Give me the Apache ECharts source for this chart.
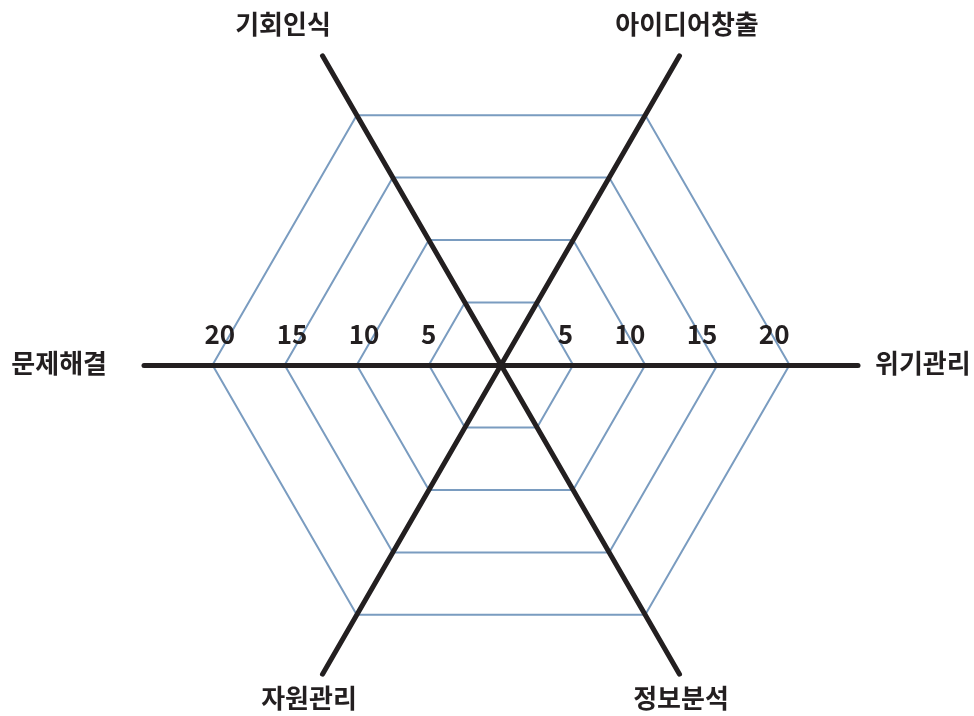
<!DOCTYPE html>
<html>
<head>
<meta charset="utf-8">
<script src="https://cdn.jsdelivr.net/npm/echarts@6/dist/echarts.min.js"></script>
<style>
html,body{margin:0;padding:0;background:#fff;}
#chart{width:974px;height:716px;}
</style>
</head>
<body>
<div id="chart"></div>
<script>
// ---- data ----
const categories = ['위기관리', '아이디어창출', '기회인식', '문제해결', '자원관리', '정보분석'];
const ringMax = 20;
const tickValues = [5, 10, 15, 20];
const tickLabels = ['5', '10', '15', '20'];

// ---- layout / style ----
const CX = 501, CY = 365;
const RING_R = 288.5;     // radius of value 20
const AXIS_R = 357;       // axis line length
const FONT = '"Noto Sans CJK KR", "Noto Sans", sans-serif';
const TEXT_COLOR = '#231f20';
const RING_COLOR = '#7a9cc0';

// name placement offsets (relative to chart center), per indicator index
const nameLayout = [
  { dx: 374, dy: -2, align: 'left' },
  { dx: 186, dy: -341, align: 'center' },
  { dx: -218, dy: -341, align: 'center' },
  { dx: -394, dy: -2, align: 'right' },
  { dx: -192, dy: 333, align: 'center' },
  { dx: 180, dy: 333, align: 'center' }
];

const chart = echarts.init(document.getElementById('chart'), null, { renderer: 'canvas' });

function valueToRadius(v) { return v / ringMax * RING_R; }

const graphics = [];
// tick labels on the horizontal axis, both sides
tickValues.forEach(function (v, i) {
  const r = valueToRadius(v);
  graphics.push({
    type: 'text', z: 10,
    style: { text: tickLabels[i], x: CX - r - 8, y: CY - 31, align: 'left', verticalAlign: 'middle',
      font: 'bold 26px ' + FONT, fill: TEXT_COLOR }
  });
  graphics.push({
    type: 'text', z: 10,
    style: { text: tickLabels[i], x: CX + r, y: CY - 31, align: 'right', verticalAlign: 'middle',
      font: 'bold 26px ' + FONT, fill: TEXT_COLOR }
  });
});
// indicator names
categories.forEach(function (name, i) {
  const l = nameLayout[i];
  graphics.push({
    type: 'text', z: 10,
    style: { text: name, x: CX + l.dx, y: CY + l.dy, align: l.align, verticalAlign: 'middle',
      font: 'bold 26px ' + FONT, fill: TEXT_COLOR }
  });
});

const option = {
  backgroundColor: '#ffffff',
  animation: false,
  radar: [
    {
      center: [CX, CY],
      radius: RING_R,
      startAngle: 0,
      splitNumber: tickValues.length,
      shape: 'polygon',
      indicator: categories.map(function (c) { return { name: c, min: 0, max: ringMax }; }),
      axisName: { show: false },
      axisLine: { show: false },
      axisTick: { show: false },
      axisLabel: { show: false },
      splitArea: { show: false },
      splitLine: { show: true, lineStyle: { color: RING_COLOR, width: 2 } },
      z: 1
    },
    {
      center: [CX, CY],
      radius: AXIS_R,
      startAngle: 0,
      splitNumber: 1,
      shape: 'polygon',
      indicator: categories.map(function (c) { return { name: c, min: 0, max: ringMax }; }),
      axisName: { show: false },
      axisLine: { show: true, lineStyle: { color: TEXT_COLOR, width: 5 } },
      axisTick: { show: false },
      axisLabel: { show: false },
      splitArea: { show: false },
      splitLine: { show: false },
      z: 3
    }
  ],
  series: [
    { type: 'radar', radarIndex: 0, data: [] }
  ],
  graphic: graphics
};

chart.setOption(option);
</script>
</body>
</html>
